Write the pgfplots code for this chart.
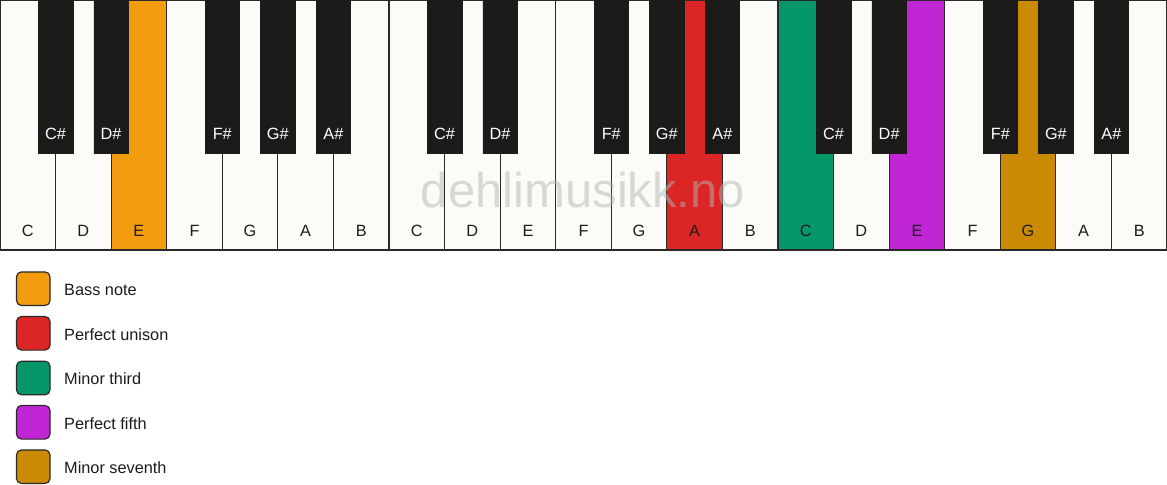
\documentclass[border=0pt]{standalone}
\usepackage{pgfplots}
\pgfplotsset{compat=1.18}
\usepackage{fontspec}
\setmainfont{Liberation Sans}

\definecolor{keywhite}{HTML}{FCFBF8}
\definecolor{keyblack}{HTML}{1C1B19}
\definecolor{keyline}{HTML}{2A2927}
\definecolor{bassnote}{HTML}{F39C0F}
\definecolor{unison}{HTML}{DC2626}
\definecolor{minthird}{HTML}{05966A}
\definecolor{fifth}{HTML}{C026D3}
\definecolor{minseventh}{HTML}{CA8A04}
\definecolor{wmark}{HTML}{B4B4B4}

\tikzset{
  lbl/.style={font=\fontsize{16.3}{19}\selectfont, anchor=base, inner sep=0pt, text=keyblack},
  blbl/.style={lbl, text=white},
  leg/.style={lbl, anchor=base west},
}

\begin{document}
\begin{tikzpicture}
\begin{axis}[
  scale only axis, width=1167pt, height=506pt,
  xmin=0, xmax=1167, ymin=0, ymax=506, y dir=reverse,
  hide axis,
]
% white keys (centre, bottom edge)
\addplot[ybar, bar width=55.571, bar shift=0pt, fill=keywhite, draw=keyline, line width=1.2pt]
  coordinates {(27.79,250) (83.36,250) (138.93,250) (194.50,250) (250.07,250) (305.64,250) (361.21,250)
               (416.79,250) (472.36,250) (527.93,250) (583.50,250) (639.07,250) (694.64,250) (750.21,250)
               (805.79,250) (861.36,250) (916.93,250) (972.50,250) (1028.07,250) (1083.64,250) (1139.21,250)};
% highlighted keys
\addplot[ybar, bar width=55.571, bar shift=0pt, fill=bassnote, draw=keyline, line width=1.2pt] coordinates {(138.93,250)};
\addplot[ybar, bar width=55.571, bar shift=0pt, fill=unison, draw=keyline, line width=1.2pt] coordinates {(694.64,250)};
\addplot[ybar, bar width=55.571, bar shift=0pt, fill=minthird, draw=keyline, line width=1.2pt] coordinates {(805.79,250)};
\addplot[ybar, bar width=55.571, bar shift=0pt, fill=fifth, draw=keyline, line width=1.2pt] coordinates {(916.93,250)};
\addplot[ybar, bar width=55.571, bar shift=0pt, fill=minseventh, draw=keyline, line width=1.2pt] coordinates {(1028.07,250)};

\node[font=\fontsize{49}{55}\selectfont, anchor=base, inner sep=0pt, text=wmark, text opacity=0.5]
  at (axis cs:583,207.7) {dehlimusikk.no};

% black keys
\addplot[ybar, bar width=34.4, bar shift=0pt, fill=keyblack, draw=keyblack]
  coordinates {(55.57,153) (111.14,153) (222.29,153) (277.86,153) (333.43,153)
               (444.57,153) (500.14,153) (611.29,153) (666.86,153) (722.43,153)
               (833.57,153) (889.14,153) (1000.29,153) (1055.86,153) (1111.43,153)};

% white key names
\node[lbl] at (axis cs:27.79,236) {C};
\node[lbl] at (axis cs:83.36,236) {D};
\node[lbl] at (axis cs:138.93,236) {E};
\node[lbl] at (axis cs:194.50,236) {F};
\node[lbl] at (axis cs:250.07,236) {G};
\node[lbl] at (axis cs:305.64,236) {A};
\node[lbl] at (axis cs:361.21,236) {B};
\node[lbl] at (axis cs:416.79,236) {C};
\node[lbl] at (axis cs:472.36,236) {D};
\node[lbl] at (axis cs:527.93,236) {E};
\node[lbl] at (axis cs:583.50,236) {F};
\node[lbl] at (axis cs:639.07,236) {G};
\node[lbl] at (axis cs:694.64,236) {A};
\node[lbl] at (axis cs:750.21,236) {B};
\node[lbl] at (axis cs:805.79,236) {C};
\node[lbl] at (axis cs:861.36,236) {D};
\node[lbl] at (axis cs:916.93,236) {E};
\node[lbl] at (axis cs:972.50,236) {F};
\node[lbl] at (axis cs:1028.07,236) {G};
\node[lbl] at (axis cs:1083.64,236) {A};
\node[lbl] at (axis cs:1139.21,236) {B};

% black key names
\node[blbl] at (axis cs:55.57,139.3) {C\#};
\node[blbl] at (axis cs:111.14,139.3) {D\#};
\node[blbl] at (axis cs:222.29,139.3) {F\#};
\node[blbl] at (axis cs:277.86,139.3) {G\#};
\node[blbl] at (axis cs:333.43,139.3) {A\#};
\node[blbl] at (axis cs:444.57,139.3) {C\#};
\node[blbl] at (axis cs:500.14,139.3) {D\#};
\node[blbl] at (axis cs:611.29,139.3) {F\#};
\node[blbl] at (axis cs:666.86,139.3) {G\#};
\node[blbl] at (axis cs:722.43,139.3) {A\#};
\node[blbl] at (axis cs:833.57,139.3) {C\#};
\node[blbl] at (axis cs:889.14,139.3) {D\#};
\node[blbl] at (axis cs:1000.29,139.3) {F\#};
\node[blbl] at (axis cs:1055.86,139.3) {G\#};
\node[blbl] at (axis cs:1111.43,139.3) {A\#};

% legend swatches
\addplot[fill=bassnote, draw=keyline, line width=1.2pt, rounded corners=5pt]
  coordinates {(16.5,271.9) (50,271.9) (50,305.5) (16.5,305.5)} --cycle;
\addplot[fill=unison, draw=keyline, line width=1.2pt, rounded corners=5pt]
  coordinates {(16.5,316.5) (50,316.5) (50,350.1) (16.5,350.1)} --cycle;
\addplot[fill=minthird, draw=keyline, line width=1.2pt, rounded corners=5pt]
  coordinates {(16.5,361.2) (50,361.2) (50,394.8) (16.5,394.8)} --cycle;
\addplot[fill=fifth, draw=keyline, line width=1.2pt, rounded corners=5pt]
  coordinates {(16.5,405.5) (50,405.5) (50,439.1) (16.5,439.1)} --cycle;
\addplot[fill=minseventh, draw=keyline, line width=1.2pt, rounded corners=5pt]
  coordinates {(16.5,449.9) (50,449.9) (50,483.5) (16.5,483.5)} --cycle;

\node[leg] at (axis cs:64,295.5) {Bass note};
\node[leg] at (axis cs:64,340.1) {Perfect unison};
\node[leg] at (axis cs:64,384.8) {Minor third};
\node[leg] at (axis cs:64,429.1) {Perfect fifth};
\node[leg] at (axis cs:64,473.5) {Minor seventh};
\end{axis}
\end{tikzpicture}
\end{document}
